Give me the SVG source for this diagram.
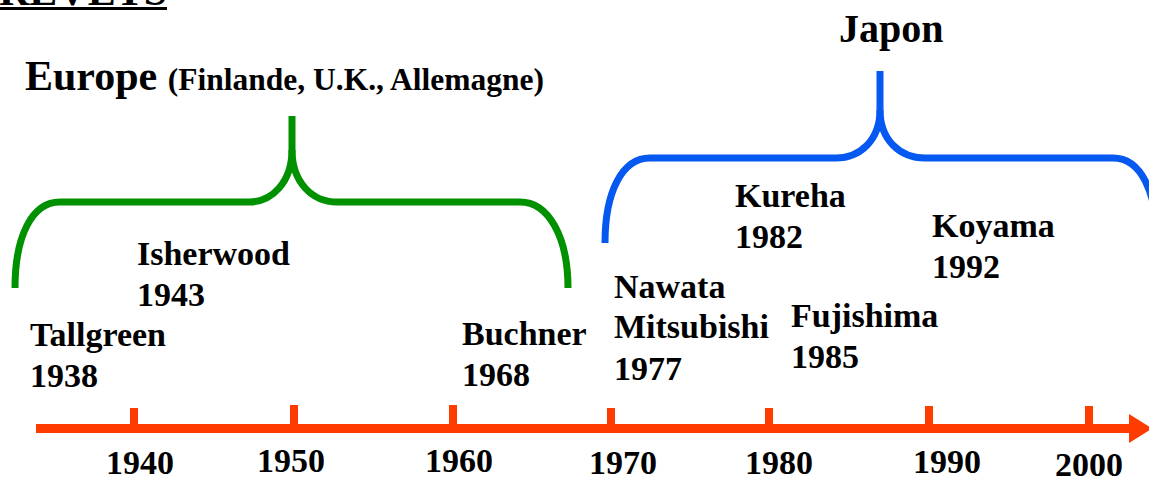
<svg xmlns="http://www.w3.org/2000/svg" width="1149" height="479" viewBox="0 0 1149 479">
<style>
text{font-family:"Liberation Serif","Times New Roman",serif;font-weight:bold;fill:#000}
.lbl{font-size:34px}
.yr{font-size:34px}
.big{font-size:40px}
.eu{font-size:42px}
.sub{font-size:31.5px}
.brace{fill:none;stroke-width:7;stroke-linecap:butt;stroke-linejoin:round}
.green{stroke:#009100}
.blue{stroke:#0558F0}
.axis{stroke:#FF3C00;fill:#FF3C00}
</style>
<rect width="1149" height="479" fill="#fff"/>
<g id="title">
<text x="-1" y="5" style="font-size:42px">REVETS</text>
<rect x="0" y="7" width="167" height="3" fill="#000"/>
</g>
<g id="connectors">
<g id="axis" class="axis">
<rect x="36" y="424" width="1096" height="9" stroke="none"/>
<polygon points="1129,414 1152,428.5 1129,443" stroke="none"/>
<rect x="130" y="408" width="8" height="18" stroke="none"/>
<rect x="290" y="405" width="8" height="21" stroke="none"/>
<rect x="449" y="405" width="8" height="21" stroke="none"/>
<rect x="607" y="408" width="8" height="18" stroke="none"/>
<rect x="765" y="408" width="8" height="18" stroke="none"/>
<rect x="925" y="406" width="8" height="20" stroke="none"/>
<rect x="1085" y="406" width="8" height="20" stroke="none"/>
</g>
<path class="brace green" d="M15,288 C15,236 32,202 60,202 L249,202 C272,202 292,182 292,150 L292,116"/>
<path class="brace green" d="M292,150 C292,182 312,202 337,202 L520,202 C548,202 568,236 568,288"/>
<path class="brace blue" d="M605,243 C605,192 622,158 650,158 L836,158 C860,158 880,140 880,110 L880,71"/>
<path class="brace blue" d="M880,110 C880,140 900,158 925,158 L1113,158 C1141,158 1157,192 1157,243"/>
</g>
<g id="axis-labels">
<text class="yr" x="106" y="474">1940</text>
<text class="yr" x="257" y="472">1950</text>
<text class="yr" x="425" y="472">1960</text>
<text class="yr" x="589" y="474">1970</text>
<text class="yr" x="745" y="474">1980</text>
<text class="yr" x="913" y="473">1990</text>
<text class="yr" x="1055" y="476">2000</text>
</g>
<g id="europe">
<text class="eu" x="25" y="90">Europe <tspan class="sub">(Finlande, U.K., Allemagne)</tspan></text>
</g>
<g id="japon">
<text class="big" x="839" y="42">Japon</text>
</g>
<g id="tallgreen"><text class="lbl" x="30" y="346">Tallgreen</text><text class="lbl" x="30" y="387">1938</text></g>
<g id="isherwood"><text class="lbl" x="137" y="265">Isherwood</text><text class="lbl" x="137" y="306">1943</text></g>
<g id="buchner"><text class="lbl" x="462" y="345">Buchner</text><text class="lbl" x="462" y="386">1968</text></g>
<g id="nawata"><text class="lbl" x="614" y="298">Nawata</text><text class="lbl" x="614" y="338">Mitsubishi</text><text class="lbl" x="614" y="380">1977</text></g>
<g id="kureha"><text class="lbl" x="735" y="207">Kureha</text><text class="lbl" x="735" y="248">1982</text></g>
<g id="fujishima"><text class="lbl" x="791" y="327">Fujishima</text><text class="lbl" x="791" y="368">1985</text></g>
<g id="koyama"><text class="lbl" x="932" y="237">Koyama</text><text class="lbl" x="932" y="278">1992</text></g>
</svg>
